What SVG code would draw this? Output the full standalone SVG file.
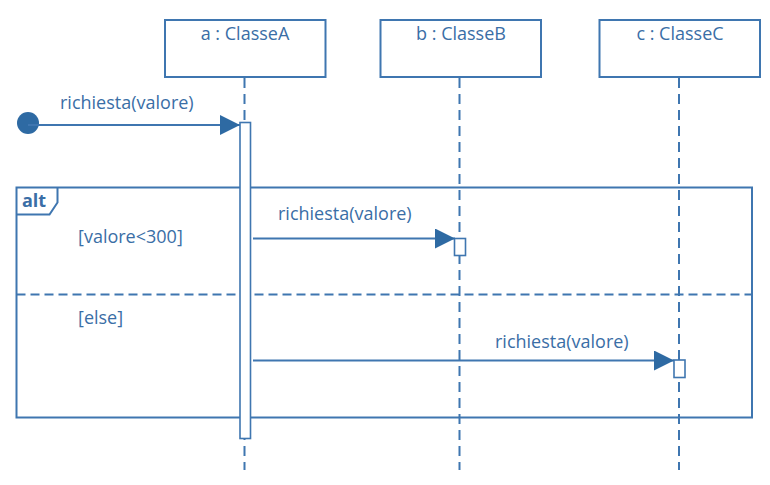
<svg xmlns="http://www.w3.org/2000/svg" width="770" height="485" viewBox="0 0 770 485">
<style>
.box{fill:#fff;stroke:#3f76b0;stroke-width:2}
.life{stroke:#3f76b0;stroke-width:2;stroke-dasharray:10 6;fill:none}
.msg{stroke:#3f76b0;stroke-width:2;fill:none}
.act{fill:#fff;stroke:#3f76b0;stroke-width:1.6}
.frame{fill:none;stroke:#3f76b0;stroke-width:2}
.sep{stroke:#3f76b0;stroke-width:2;stroke-dasharray:9 5}
text{font-family:"Open Sans","Liberation Sans",sans-serif;font-size:18px;fill:#3a6ea6}
.c{text-anchor:middle}
.b{font-weight:bold}
</style>
<defs>
<marker id="arr" markerWidth="20" markerHeight="20" refX="20" refY="10" orient="auto" markerUnits="userSpaceOnUse">
<path d="M0,0 L20,10 L0,20 Z" fill="#2e6aa3"/>
</marker>
</defs>
<g id="frame-alt">
<rect x="16.5" y="187.5" width="735.5" height="230" class="frame"/>
<path d="M16.5,214.5 L49.5,214.5 L57.5,202.5 L57.5,187.5" class="frame"/>
<text x="22" y="207" class="b">alt</text>
<line x1="16.5" y1="294.5" x2="752" y2="294.5" class="sep"/>
<text x="78" y="243">[valore&lt;300]</text>
<text x="78" y="324">[else]</text>
</g>
<g id="lifelines">
<line x1="244.5" y1="78" x2="244.5" y2="470" class="life"/>
<line x1="459.5" y1="78" x2="459.5" y2="470" class="life"/>
<line x1="679" y1="78" x2="679" y2="470" class="life"/>
</g>
<g id="node-a">
<rect x="165" y="20" width="160.5" height="57" class="box"/>
<text x="245" y="40" class="c">a : ClasseA</text>
</g>
<g id="node-b">
<rect x="380.5" y="20" width="160.5" height="57" class="box"/>
<text x="461" y="40" class="c">b : ClasseB</text>
</g>
<g id="node-c">
<rect x="599.5" y="20" width="160.5" height="57" class="box"/>
<text x="680" y="40" class="c">c : ClasseC</text>
</g>
<g id="activations">
<rect x="240" y="122.5" width="10.5" height="316" class="act"/>
<rect x="454.5" y="238.5" width="11" height="17" class="act"/>
<rect x="674" y="360" width="11" height="17.5" class="act"/>
</g>
<g id="start">
<circle cx="28" cy="123" r="11" fill="#2e6aa3"/>
</g>
<g id="connectors">
<line x1="28" y1="125" x2="240" y2="125" class="msg" marker-end="url(#arr)"/>
<text x="60" y="109">richiesta(valore)</text>
<line x1="253" y1="238.5" x2="455" y2="238.5" class="msg" marker-end="url(#arr)"/>
<text x="278" y="220">richiesta(valore)</text>
<line x1="253" y1="360.5" x2="674" y2="360.5" class="msg" marker-end="url(#arr)"/>
<text x="495" y="348">richiesta(valore)</text>
</g>
</svg>
